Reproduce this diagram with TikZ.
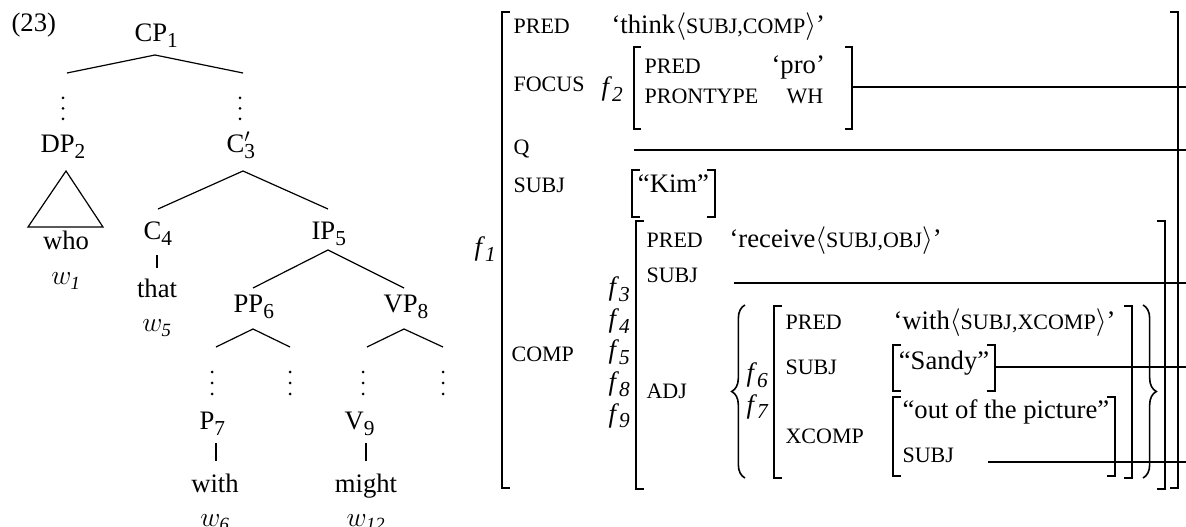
\documentclass[tikz,border=0pt]{standalone}
\usepackage{fontspec}
\setmainfont{Liberation Serif}
\usepackage{amsmath}
\usepackage{tikz}
\usetikzlibrary{shapes,decorations.pathreplacing}

\newcommand{\feat}[1]{{\fontsize{16.5}{20}\selectfont #1}}
\newcommand{\lsub}[1]{\raisebox{-4.3pt}{\fontsize{16}{19}\selectfont #1}}
\newcommand{\fvar}[1]{\textit{f}\lsub{\textit{#1}}}

\begin{document}
\begin{tikzpicture}[x=0.75pt,y=0.75pt,yscale=-1,xscale=1,font=\fontsize{20}{24}\selectfont,line width=0.9pt]
\useasboundingbox (0,0) rectangle (1186,527);

%%%%% tree %%%%%
% Text Node
\draw (10,32) node (exnum) [anchor=base west][inner sep=0.75pt] {(23)};
% Text Node
\draw (133,42) node (cp) [anchor=base west][inner sep=0.75pt] {CP\lsub{1}};
\coordinate (cpB) at (155,55);
\coordinate (cpL) at (67,73);
\coordinate (cpR) at (243,73);
%Straight Lines
\draw (cpL) -- (cpB) -- (cpR);
%Shape: Dots
\fill (63,98) circle (1.5) (63,108.5) circle (1.5) (63,119) circle (1.5);
\fill (240,98) circle (1.5) (240,108.5) circle (1.5) (240,119) circle (1.5);
% Text Node
\draw (39,153) node (dp) [anchor=base west][inner sep=0.75pt] {DP\lsub{2}};
% Text Node
\draw (225,153) node (cbar) [anchor=base west][inner sep=0.75pt] {C\rlap{$'$}\lsub{3}};
%Shape: Triangle
\draw (66,171) -- (103,227) -- (28,227) -- cycle;
% Text Node
\draw (66,250) node (who) [anchor=base][inner sep=0.75pt] {who};
% Text Node
\draw (66,285) node (wone) [anchor=base][inner sep=0.75pt] {$w_{\mathit{1}}$};
\coordinate (cbarB) at (243,171);
\coordinate (cbarL) at (158,209);
\coordinate (cbarR) at (328,209);
%Straight Lines
\draw (cbarL) -- (cbarB) -- (cbarR);
% Text Node
\draw (142,240) node (c) [anchor=base west][inner sep=0.75pt] {C\lsub{4}};
% Text Node
\draw (310,240) node (ip) [anchor=base west][inner sep=0.75pt] {IP\lsub{5}};
\coordinate (cB) at (157,255);
\coordinate (thatT) at (157,268);
%Straight Lines
\draw (cB) -- (thatT);
% Text Node
\draw (157,298) node (that) [anchor=base][inner sep=0.75pt] {that};
% Text Node
\draw (157,332) node (wfive) [anchor=base][inner sep=0.75pt] {$w_{\mathit{5}}$};
\coordinate (ipB) at (328,250);
\coordinate (ipL) at (253,288);
\coordinate (ipR) at (404,288);
%Straight Lines
\draw (ipL) -- (ipB) -- (ipR);
% Text Node
\draw (232,313) node (pp) [anchor=base west][inner sep=0.75pt] {PP\lsub{6}};
% Text Node
\draw (382,313) node (vp) [anchor=base west][inner sep=0.75pt] {VP\lsub{8}};
\coordinate (ppB) at (253,329);
\coordinate (ppL) at (216,347);
\coordinate (ppR) at (290,347);
\coordinate (vpB) at (404,329);
\coordinate (vpL) at (367,347);
\coordinate (vpR) at (443,347);
%Straight Lines
\draw (ppL) -- (ppB) -- (ppR);
\draw (vpL) -- (vpB) -- (vpR);
%Shape: Dots
\fill (212,372) circle (1.5) (212,383) circle (1.5) (212,394) circle (1.5);
\fill (290,372) circle (1.5) (290,383) circle (1.5) (290,394) circle (1.5);
\fill (363,372) circle (1.5) (363,383) circle (1.5) (363,394) circle (1.5);
\fill (443,372) circle (1.5) (443,383) circle (1.5) (443,394) circle (1.5);
% Text Node
\draw (198,430) node (p) [anchor=base west][inner sep=0.75pt] {P\lsub{7}};
% Text Node
\draw (343,430) node (v) [anchor=base west][inner sep=0.75pt] {V\lsub{9}};
\coordinate (pB) at (216,443);
\coordinate (withT) at (216,461);
\coordinate (vB) at (366,443);
\coordinate (mightT) at (366,461);
%Straight Lines
\draw (pB) -- (withT);
\draw (vB) -- (mightT);
% Text Node
\draw (215,492) node (with) [anchor=base][inner sep=0.75pt] {with};
% Text Node
\draw (366,492) node (might) [anchor=base][inner sep=0.75pt] {might};
% Text Node
\draw (215,526) node (wsix) [anchor=base][inner sep=0.75pt] {$w_{\mathit{6}}$};
% Text Node
\draw (366,526) node (wtwelve) [anchor=base][inner sep=0.75pt] {$w_{\mathit{12}}$};

%%%%% f-structure %%%%%
% Text Node
\draw (473,256) node (fone) [anchor=base west][inner sep=0.75pt] {\fvar{1}};
%Shape: Bracket
\draw (510,12) -- (502,12) -- (502,488) -- (510,488);
\draw (1170,12) -- (1178,12) -- (1178,488) -- (1170,488);
% Text Node
\draw (512,33.5) node (pred) [anchor=base west][inner sep=0.75pt] {\feat{PRED}};
% Text Node
\draw (610,33.5) node (think) [anchor=base west][inner sep=0.75pt] {`think$\langle$\feat{SUBJ,COMP}$\rangle$'};
% Text Node
\draw (512,92) node (focus) [anchor=base west][inner sep=0.75pt] {\feat{FOCUS}};
% Text Node
\draw (600,96) node (ftwo) [anchor=base west][inner sep=0.75pt] {\fvar{2}};
%Shape: Bracket
\draw (641,47) -- (634,47) -- (634,129) -- (641,129);
\draw (845,47) -- (852,47) -- (852,129) -- (845,129);
% Text Node
\draw (643,73.5) node (fpred) [anchor=base west][inner sep=0.75pt] {\feat{PRED}};
% Text Node
\draw (770,73.5) node (pro) [anchor=base west][inner sep=0.75pt] {`pro'};
% Text Node
\draw (643,103.5) node (prontype) [anchor=base west][inner sep=0.75pt] {\feat{PRONTYPE}};
% Text Node
\draw (785,103.5) node (wh) [anchor=base west][inner sep=0.75pt] {\feat{WH}};
\coordinate (focR) at (852,87);
\coordinate (focE) at (1186,87);
%Straight Lines
\draw (focR) -- (focE);
% Text Node
\draw (512,155) node (q) [anchor=base west][inner sep=0.75pt] {\feat{Q}};
\coordinate (qS) at (634,150);
\coordinate (qE) at (1186,150);
%Straight Lines
\draw (qS) -- (qE);
% Text Node
\draw (512,193) node (subj) [anchor=base west][inner sep=0.75pt] {\feat{SUBJ}};
%Shape: Bracket
\draw (640,170) -- (632,170) -- (632,217) -- (640,217);
\draw (707,170) -- (715,170) -- (715,217) -- (707,217);
% Text Node
\draw (673.5,193) node (kim) [anchor=base][inner sep=0.75pt] {``Kim''};
% Text Node
\draw (510,362) node (comp) [anchor=base west][inner sep=0.75pt] {\feat{COMP}};
% Text Node
\draw (607,296) node (fthree) [anchor=base west][inner sep=0.75pt] {\fvar{3}};
\draw (607,327.5) node (ffour) [anchor=base west][inner sep=0.75pt] {\fvar{4}};
\draw (607,359) node (ffive) [anchor=base west][inner sep=0.75pt] {\fvar{5}};
\draw (607,390.5) node (feight) [anchor=base west][inner sep=0.75pt] {\fvar{8}};
\draw (607,422) node (fnine) [anchor=base west][inner sep=0.75pt] {\fvar{9}};
%Shape: Bracket
\draw (644,221) -- (636,221) -- (636,489) -- (644,489);
\draw (1157,221) -- (1165,221) -- (1165,489) -- (1157,489);
% Text Node
\draw (645,248) node (cpred) [anchor=base west][inner sep=0.75pt] {\feat{PRED}};
% Text Node
\draw (728,248) node (receive) [anchor=base west][inner sep=0.75pt] {`receive$\langle$\feat{SUBJ,OBJ}$\rangle$'};
% Text Node
\draw (645,283) node (csubj) [anchor=base west][inner sep=0.75pt] {\feat{SUBJ}};
\coordinate (csubjS) at (734,283);
\coordinate (csubjE) at (1186,283);
%Straight Lines
\draw (csubjS) -- (csubjE);
% Text Node
\draw (645,399) node (adj) [anchor=base west][inner sep=0.75pt] {\feat{ADJ}};
%Shape: Brace
\draw [decorate,decoration={brace,amplitude=10pt},line width=1.2pt] (745,478) -- (745,305);
\draw [decorate,decoration={brace,amplitude=10pt},line width=1.2pt] (1143,305) -- (1143,478);
% Text Node
\draw (745,382) node (fsix) [anchor=base west][inner sep=0.75pt] {\fvar{6}};
\draw (745,413) node (fseven) [anchor=base west][inner sep=0.75pt] {\fvar{7}};
%Shape: Bracket
\draw (782,306) -- (774,306) -- (774,478) -- (782,478);
\draw (1124,306) -- (1132,306) -- (1132,478) -- (1124,478);
% Text Node
\draw (784,330) node (apred) [anchor=base west][inner sep=0.75pt] {\feat{PRED}};
% Text Node
\draw (892,330) node (withv) [anchor=base west][inner sep=0.75pt] {`with$\langle$\feat{SUBJ,XCOMP}$\rangle$'};
% Text Node
\draw (784,375) node (asubj) [anchor=base west][inner sep=0.75pt] {\feat{SUBJ}};
%Shape: Bracket
\draw (901,345) -- (893,345) -- (893,391) -- (901,391);
\draw (987,345) -- (995,345) -- (995,391) -- (987,391);
% Text Node
\draw (944,370) node (sandy) [anchor=base][inner sep=0.75pt] {``Sandy''};
\coordinate (sandyR) at (995,367);
\coordinate (sandyE) at (1186,367);
%Straight Lines
\draw (sandyR) -- (sandyE);
% Text Node
\draw (784,443) node (xcomp) [anchor=base west][inner sep=0.75pt] {\feat{XCOMP}};
%Shape: Bracket
\draw (901,397) -- (893,397) -- (893,476) -- (901,476);
\draw (1107,397) -- (1115,397) -- (1115,476) -- (1107,476);
% Text Node
\draw (901,418) node (picture) [anchor=base west][inner sep=0.75pt] {``out of the picture''};
% Text Node
\draw (901,462) node (xsubj) [anchor=base west][inner sep=0.75pt] {\feat{SUBJ}};
\coordinate (xsubjS) at (988,462);
\coordinate (xsubjE) at (1186,462);
%Straight Lines
\draw (xsubjS) -- (xsubjE);

\end{tikzpicture}
\end{document}
